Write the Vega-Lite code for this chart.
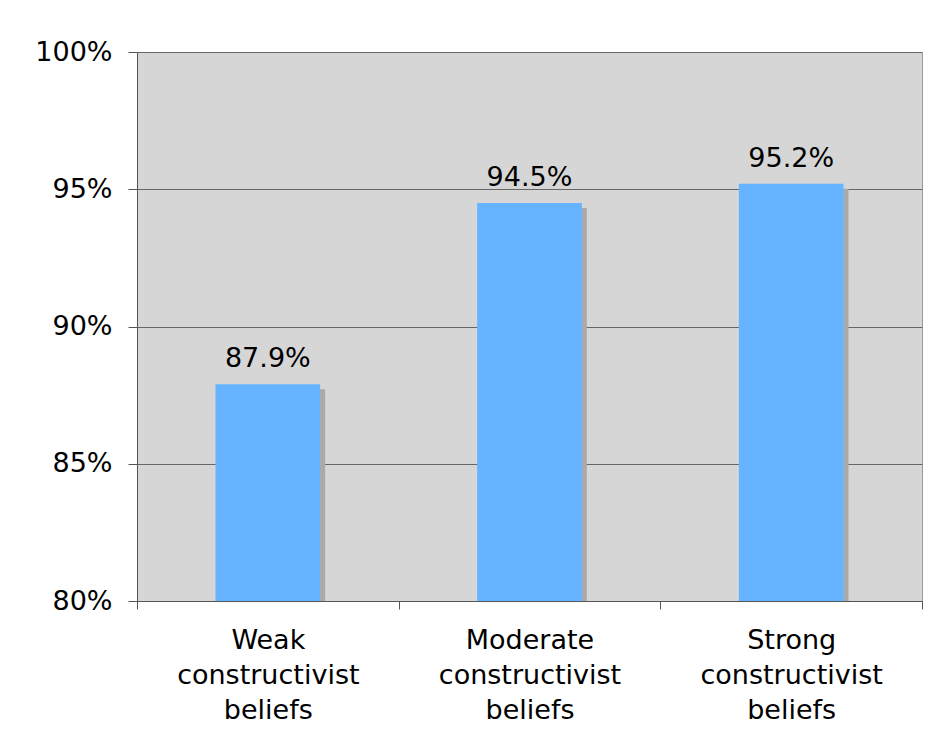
{
  "$schema": "https://vega.github.io/schema/vega-lite/v6.json",
  "autosize": "none",
  "width": 785,
  "height": 549,
  "padding": {"left": 137, "top": 52, "right": 10, "bottom": 148},
  "background": "white",
  "config": {
    "font": "DejaVu Sans",
    "view": {"fill": "#d6d6d6", "stroke": "#999999", "strokeWidth": 1}
  },
  "data": {
    "values": [
      {"group": "Weak constructivist beliefs", "value": 0.879},
      {"group": "Moderate constructivist beliefs", "value": 0.945},
      {"group": "Strong constructivist beliefs", "value": 0.952}
    ]
  },
  "encoding": {
    "x": {
      "field": "group",
      "type": "nominal",
      "sort": null,
      "scale": {"paddingInner": 0, "paddingOuter": 0},
      "axis": {
        "title": null,
        "labelAngle": 0,
        "labelExpr": "split(datum.label, ' ')",
        "labelFontSize": 27,
        "labelColor": "black",
        "labelLineHeight": 35,
        "labelPadding": 18,
        "labelBaseline": "top",
        "labelLimit": 0,
        "tickBand": "extent",
        "tickSize": 8,
        "tickColor": "#555555",
        "domainColor": "#555555",
        "grid": false
      }
    },
    "y": {
      "field": "value",
      "type": "quantitative",
      "scale": {"domain": [0.8, 1.0], "nice": false, "zero": false},
      "axis": {
        "title": null,
        "values": [0.8, 0.85, 0.9, 0.95, 1.0],
        "format": ".0%",
        "labelFontSize": 27,
        "labelColor": "black",
        "labelPadding": 16,
        "tickSize": 9,
        "tickColor": "#555555",
        "domainColor": "#555555",
        "grid": true,
        "gridColor": "#666666",
        "gridWidth": 1
      }
    }
  },
  "layer": [
    {
      "mark": {"type": "bar", "width": {"band": 0.4}, "color": "#aaaaaa", "xOffset": 5, "yOffset": 5, "clip": true}
    },
    {
      "mark": {"type": "bar", "width": {"band": 0.4}, "color": "#66b3ff", "clip": true}
    },
    {
      "mark": {"type": "text", "fontSize": 27, "baseline": "alphabetic", "dy": -17, "color": "black"},
      "encoding": {"text": {"field": "value", "type": "quantitative", "format": ".1%"}}
    }
  ]
}
